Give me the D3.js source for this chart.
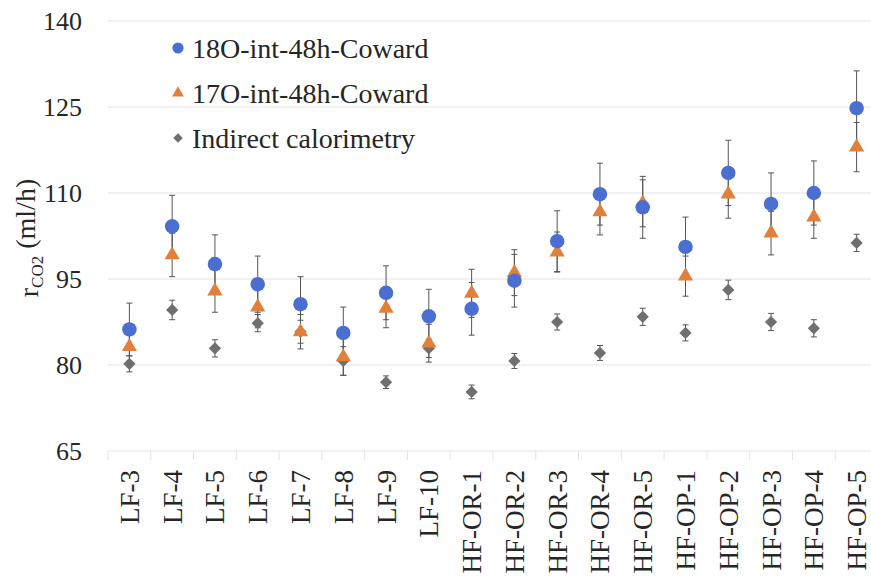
<!DOCTYPE html>
<html lang="en">
<head>
    <meta charset="UTF-8">
    <title>rCO2 comparison</title>
    <script src="https://d3js.org/d3.v7.min.js"></script>
    <style>
        body { margin: 0; background: #fff; }
        svg text { font-family: "Liberation Serif", "Times New Roman", serif; fill: #262626; }
        .grid line { stroke: #e3e3e3; stroke-width: 1; }
        .err { stroke: #555; stroke-width: 1; fill: none; }
    </style>
</head>
<body>
    <svg width="871" height="581"></svg>
    <script>
        const categories = ["LF-3", "LF-4", "LF-5", "LF-6", "LF-7", "LF-8", "LF-9", "LF-10",
            "HF-OR-1", "HF-OR-2", "HF-OR-3", "HF-OR-4", "HF-OR-5",
            "HF-OP-1", "HF-OP-2", "HF-OP-3", "HF-OP-4", "HF-OP-5"];

        const o18 = [86.2, 104.2, 97.6, 94.1, 90.6, 85.6, 92.6, 88.5, 89.8, 94.7, 101.6, 109.8, 107.5, 100.6, 113.5, 108.1, 110.0, 124.8];
        const o18Err = [4.6, 5.4, 5.1, 4.9, 4.8, 4.5, 4.7, 4.7, 4.6, 4.6, 5.3, 5.4, 5.4, 5.2, 5.7, 5.4, 5.6, 6.5];

        const o17 = [83.2, 99.2, 92.9, 90.1, 85.8, 81.4, 89.9, 83.8, 92.5, 96.1, 99.7, 106.7, 108.2, 95.5, 109.8, 103.0, 105.8, 118.0];
        const o17Err = [3.5, 3.8, 3.7, 3.6, 3.0, 3.2, 3.4, 3.3, 4.2, 4.0, 3.5, 4.0, 4.1, 3.5, 4.2, 3.8, 3.7, 4.3];

        const calorimetry = [80.2, 89.6, 82.9, 87.3, 85.8, 80.7, 77.0, 82.9, 75.3, 80.7, 87.5, 82.1, 88.4, 85.6, 93.1, 87.5, 86.4, 101.3];
        const calorimetryErr = [1.4, 1.7, 1.5, 1.5, 2.0, 2.5, 1.1, 1.6, 1.2, 1.3, 1.4, 1.3, 1.5, 1.4, 1.7, 1.5, 1.5, 1.5];

        const yTicks = [65, 80, 95, 110, 125, 140];

        const serif = "'Liberation Serif', 'Times New Roman', serif";
        const svg = d3.select("svg");
        const margin = {top: 21, right: -7, bottom: 130, left: 108};
        const width = 871, height = 581;

        const x = d3.scaleBand()
            .domain(categories)
            .range([margin.left, width - margin.right]);

        const y = d3.scaleLinear()
            .domain([65, 140])
            .range([height - margin.bottom, margin.top]);

        // horizontal gridlines
        svg.append("g")
            .attr("class", "grid")
            .selectAll("line")
            .data(yTicks)
            .join("line")
            .attr("x1", margin.left)
            .attr("x2", width)
            .attr("y1", d => y(d))
            .attr("y2", d => y(d));

        // y axis labels
        svg.append("g")
            .attr("transform", `translate(${margin.left},0)`)
            .call(d3.axisLeft(y).tickValues(yTicks).tickSize(0).tickPadding(26))
            .call(g => g.select(".domain").remove())
            .call(g => g.selectAll("text")
                .style("font-family", serif)
                .style("font-size", "26px")
                .attr("fill", "#262626"));

        // x axis
        const xAxis = svg.append("g")
            .attr("transform", `translate(0,${y(65)})`);
        const edges = categories.map(d => x(d)).concat([x(categories[categories.length - 1]) + x.bandwidth()]);
        xAxis.selectAll("line.tick")
            .data(edges)
            .join("line")
            .attr("class", "tick")
            .attr("x1", d => d)
            .attr("x2", d => d)
            .attr("y1", 0)
            .attr("y2", 9)
            .attr("stroke", "#e3e3e3");
        xAxis.selectAll("text")
            .data(categories)
            .join("text")
            .attr("transform", d => `translate(${x(d) + x.bandwidth() / 2},19) rotate(-90)`)
            .attr("text-anchor", "end")
            .attr("dy", "0.35em")
            .style("font-family", serif)
            .style("font-size", "27px")
            .text(d => d);

        // y axis title
        const title = svg.append("text")
            .attr("transform", `translate(38,${(y(65) + y(140)) / 2 + 2}) rotate(-90)`)
            .attr("text-anchor", "middle")
            .style("font-family", serif)
            .style("font-size", "28px");
        title.append("tspan").text("r");
        title.append("tspan").attr("dy", "0.3em").style("font-size", "17px").text("CO2");
        title.append("tspan").attr("dy", "-0.3em").text(" (ml/h)");

        const cx = d => x(d) + x.bandwidth() / 2;

        function errorBars(values, errs) {
            const g = svg.append("g").attr("class", "err");
            categories.forEach((c, i) => {
                const top = y(values[i] + errs[i]), bot = y(values[i] - errs[i]);
                g.append("line").attr("x1", cx(c)).attr("x2", cx(c)).attr("y1", top).attr("y2", bot);
                g.append("line").attr("x1", cx(c) - 3).attr("x2", cx(c) + 3).attr("y1", top).attr("y2", top);
                g.append("line").attr("x1", cx(c) - 3).attr("x2", cx(c) + 3).attr("y1", bot).attr("y2", bot);
            });
        }

        errorBars(calorimetry, calorimetryErr);
        errorBars(o17, o17Err);
        errorBars(o18, o18Err);

        const series = [
            {name: "Indirect calorimetry", values: calorimetry, color: "#6f6f6f", symbol: d3.symbolSquare, size: 75, rot: 45},
            {name: "17O-int-48h-Coward", values: o17, color: "#e0803a", symbol: d3.symbolTriangle, size: 100, rot: 0},
            {name: "18O-int-48h-Coward", values: o18, color: "#4a6fd1", symbol: d3.symbolCircle, size: 165, rot: 0}
        ];

        series.forEach(s => {
            svg.append("g")
                .selectAll("path")
                .data(categories)
                .join("path")
                .attr("d", d3.symbol().type(s.symbol).size(s.size))
                .attr("transform", (d, i) => `translate(${cx(d)},${y(s.values[i])}) rotate(${s.rot})`)
                .attr("fill", s.color);
        });

        // legend
        const legendItems = series.slice().reverse();
        const legend = svg.append("g").attr("transform", "translate(178,48)");
        legendItems.forEach((s, i) => {
            const row = legend.append("g").attr("transform", `translate(0,${i * 45})`);
            row.append("path")
                .attr("d", d3.symbol().type(s.symbol).size(s.size * 0.6))
                .attr("transform", `rotate(${s.rot})`)
                .attr("fill", s.color);
            row.append("text")
                .attr("x", 14)
                .attr("dy", "0.35em")
                .style("font-family", serif)
                .style("font-size", "28px")
                .text(s.name);
        });
    </script>
</body>
</html>
